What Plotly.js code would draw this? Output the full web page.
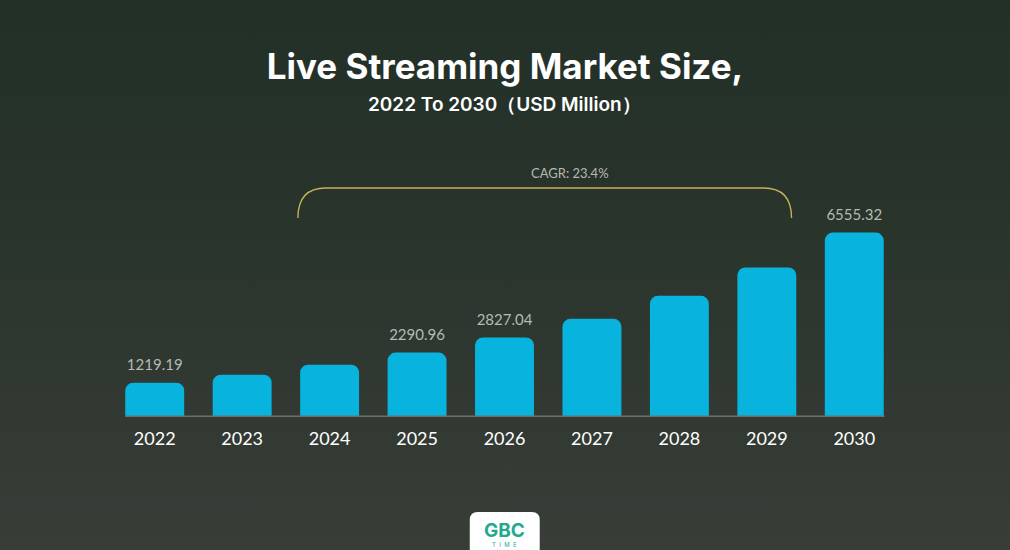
<!DOCTYPE html>
<html>
<head>
<meta charset="utf-8">
<script src="https://cdn.plot.ly/plotly-3.0.1.min.js"></script>
<style>
  html, body { margin: 0; padding: 0; }
  body {
    width: 1010px; height: 550px; overflow: hidden;
    background: linear-gradient(180deg, #223027 0%, #2a352c 45%, #383d38 100%);
  }
  #chart { width: 1010px; height: 550px; }
</style>
</head>
<body>
<div id="chart"></div>
<script>
// data
const years = ['2022', '2023', '2024', '2025', '2026', '2027', '2028', '2029', '2030'];
const marketSize = [1219.19, 1504.4, 1856.4, 2290.96, 2827.04, 3488.6, 4304.9, 5312.2, 6555.32];
const shownLabels = ['1219.19', '', '', '2290.96', '2827.04', '', '', '', '6555.32'];
const cagrText = 'CAGR: 23.4%';

// plot area in pixels
const L = 111, W = 787.5, T = 130, H = 287;
const B = 550 - T - H;
function px(x) { return (x - L) / W; }
function py(y) { return (T + H - y) / H; }

const bars = {
    x: years,
    y: marketSize,
    type: 'bar',
    marker: { color: '#08b3dd', cornerradius: 8 },
    hoverinfo: 'x+y'
};

// value labels over some bars (hidden marker pushes the text up a little)
const labels = {
    x: years,
    y: marketSize,
    type: 'scatter',
    mode: 'markers+text',
    marker: { size: 12, color: 'rgba(0,0,0,0)' },
    text: shownLabels,
    textposition: 'top center',
    cliponaxis: false,
    textfont: { family: 'Lato, sans-serif', size: 15, color: '#b5bab3' },
    hoverinfo: 'skip'
};

function note(x, y, text, font) {
    return {
        x: px(x), y: py(y), xref: 'paper', yref: 'paper',
        xanchor: 'center', yanchor: 'middle',
        text: text, showarrow: false, font: font
    };
}

const annotations = [
    note(570, 173, cagrText, { family: 'Lato, sans-serif', size: 13, color: '#b4b9b1' }),
    note(505, 104, '2022 To 2030（USD Million）', { family: 'Inter, sans-serif', size: 19, color: '#ffffff', weight: 600 }),
    note(505, 530, '<b>GBC</b>', { family: 'Inter, sans-serif', size: 19, color: '#23a98f' }),
    note(505, 544, 'T  I  M  E', { family: 'Inter, sans-serif', size: 6, color: '#23a98f' })
];

const shapes = [
    {
        type: 'path', xref: 'paper', yref: 'paper',
        path: 'M ' + px(298) + ',' + py(218) +
              ' C ' + px(298) + ',' + py(200) + ' ' + px(306) + ',' + py(188) + ' ' + px(326) + ',' + py(188) +
              ' L ' + px(764) + ',' + py(188) +
              ' C ' + px(784) + ',' + py(188) + ' ' + px(792) + ',' + py(200) + ' ' + px(792) + ',' + py(218),
        line: { color: '#c8b25a', width: 1.3 }
    },
    {
        type: 'line', xref: 'paper', yref: 'y',
        x0: px(125), x1: px(885), y0: 0, y1: 0,
        line: { color: '#6d706b', width: 3 }
    },
    {
        type: 'path', xref: 'paper', yref: 'paper',
        path: 'M ' + px(470) + ',' + py(560) + ' L ' + px(470) + ',' + py(520) +
              ' Q ' + px(470) + ',' + py(512) + ' ' + px(478) + ',' + py(512) +
              ' L ' + px(532) + ',' + py(512) +
              ' Q ' + px(540) + ',' + py(512) + ' ' + px(540) + ',' + py(520) +
              ' L ' + px(540) + ',' + py(560) + ' Z',
        fillcolor: '#ffffff', line: { width: 0 }, layer: 'below'
    }
];

const layout = {
    width: 1010, height: 550,
    margin: { l: L, r: 1010 - L - W, t: T, b: B },
    paper_bgcolor: 'rgba(0,0,0,0)',
    plot_bgcolor: 'rgba(0,0,0,0)',
    showlegend: false,
    bargap: 0.326,
    title: {
        text: 'Live Streaming Market Size,',
        x: 0.5, xanchor: 'center',
        y: 1 - 67 / 550, yref: 'container', yanchor: 'middle',
        font: { family: 'Inter, sans-serif', size: 35, color: '#ffffff', weight: 700 }
    },
    xaxis: {
        type: 'category',
        range: [-0.5, 8.5],
        showgrid: false, zeroline: false, showline: false,
        ticks: 'outside', ticklen: 5, tickcolor: 'rgba(0,0,0,0)',
        tickfont: { family: 'Lato, sans-serif', size: 18, color: '#ffffff' }
    },
    yaxis: {
        range: [0, 10200],
        visible: false, fixedrange: true
    },
    annotations: annotations,
    shapes: shapes
};

Plotly.newPlot('chart', [bars, labels], layout, { displayModeBar: false, staticPlot: true });
</script>
</body>
</html>
